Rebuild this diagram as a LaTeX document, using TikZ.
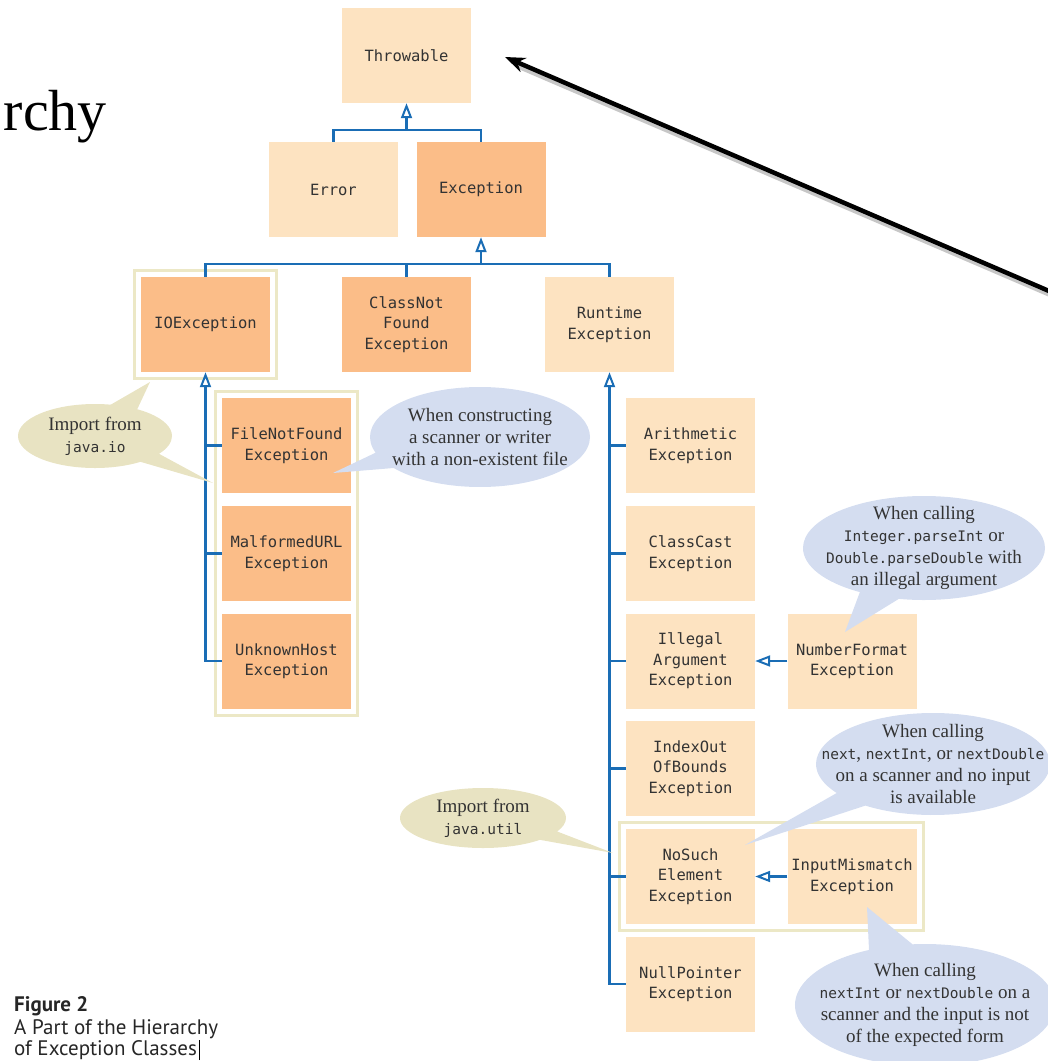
\documentclass[tikz,border=0pt]{standalone}
\usepackage{fontspec}
\setmainfont{Liberation Serif}
\setmonofont{DejaVu Sans Mono}
\newfontfamily\capfont{PT Sans}
\usetikzlibrary{arrows.meta,shapes.callouts,fit,calc}
\definecolor{lightbox}{HTML}{FDE3C1}
\definecolor{darkbox}{HTML}{FBBD88}
\definecolor{blueline}{HTML}{1A6DB5}
\definecolor{frameC}{HTML}{ECE8C6}
\definecolor{noteblue}{HTML}{D4DDF0}
\definecolor{notebeige}{HTML}{E8E3C2}
\definecolor{txt}{HTML}{333333}
\newcommand\codew[1]{{\fontsize{14.5}{22}\selectfont\ttfamily #1}}
\begin{document}
\begin{tikzpicture}[x=1pt,y=-1pt,
  box/.style={rectangle, minimum width=129pt, minimum height=95pt, inner sep=0pt, align=center,
    font=\fontsize{15.5}{20.5}\selectfont\ttfamily, text=txt},
  lbox/.style={box, fill=lightbox},
  dbox/.style={box, fill=darkbox},
  frame/.style={draw=frameC, line width=3pt, inner sep=6.5pt},
  conn/.style={draw=blueline, line width=2.6pt},
  inh/.style={conn, -{Triangle[length=15pt, width=11pt, fill=white, line width=2pt]}},
  call/.style={ellipse callout, callout pointer arc=20, inner sep=0pt},
  calltext/.style={font=\fontsize{19}{22}\selectfont, text=txt, align=center, inner sep=0pt},
  captext/.style={anchor=base west, inner sep=0pt, text=black!85}
]
\useasboundingbox (0,0) rectangle (1048,1061);

% title fragment
\node[font=\fontsize{58}{58}\selectfont, anchor=base east, inner sep=0pt] (title) at (107,130) {rchy};

% class boxes
\node[lbox] (throwable) at (406.5,55.5) {Throwable};
\node[lbox] (error) at (333.5,189.5) {Error};
\node[dbox] (exception) at (481,189.5) {Exception};
\node[dbox] (ioexc) at (205.5,324.5) {IOException};
\node[dbox] (classnf) at (406.5,324.5) {ClassNot\\Found\\Exception};
\node[lbox] (runtime) at (609.5,324.5) {Runtime\\Exception};
\node[dbox] (filenf) at (286.5,445.5) {FileNotFound\\Exception};
\node[dbox] (malformed) at (286.5,553.5) {MalformedURL\\Exception};
\node[dbox] (unknown) at (286.5,661) {UnknownHost\\Exception};
\node[lbox] (arith) at (690.5,445.5) {Arithmetic\\Exception};
\node[lbox] (classcast) at (690.5,553.5) {ClassCast\\Exception};
\node[lbox] (illegal) at (690.5,661) {Illegal\\Argument\\Exception};
\node[lbox] (indexout) at (690.5,768.5) {IndexOut\\OfBounds\\Exception};
\node[lbox] (nosuch) at (690.5,876.5) {NoSuch\\Element\\Exception};
\node[lbox] (nullptr) at (690.5,984) {NullPointer\\Exception};
\node[lbox] (numfmt) at (852,661) {NumberFormat\\Exception};
\node[lbox] (inputmm) at (852,876.5) {InputMismatch\\Exception};

% package frames
\node[frame, fit=(ioexc)] (ioframe) {};
\node[frame, fit=(filenf)(unknown)] (ioframe2) {};
\node[frame, fit=(nosuch)(inputmm)] (utilframe) {};

% inheritance connectors
\coordinate (j1) at (406.5,130);
\draw[conn] (error.north) |- (j1) -| (exception.north);
\draw[inh] (j1) -- (throwable.south);
\coordinate (j2) at (481,264);
\draw[conn] (ioexc.north) |- (j2) -| (runtime.north);
\draw[conn] (classnf.north) -- (classnf.north |- j2);
\draw[inh] (j2) -- (exception.south);
\draw[inh] (unknown.west) -| (ioexc.south);
\draw[conn] (filenf.west) -- (filenf.west -| ioexc.south);
\draw[conn] (malformed.west) -- (malformed.west -| ioexc.south);
\draw[inh] (nullptr.west) -| (runtime.south);
\foreach \n in {arith,classcast,illegal,indexout,nosuch}
  \draw[conn] (\n.west) -- (\n.west -| runtime.south);
\draw[inh] (numfmt.west) -- (illegal.east);
\draw[inh] (inputmm.west) -- (nosuch.east);

% callouts
\coordinate (pio) at (213,483);
\coordinate (pio2) at (150,382);
\node[call, fill=notebeige, minimum width=154pt, minimum height=64pt, callout absolute pointer=(pio),
  label={[calltext]center:{Import from\\\codew{java.io}}}] (iocall) at (95,436) {};
\fill[notebeige] ($(iocall.center)+(10,-28)$) -- (pio2) -- ($(iocall.center)+(40,-22)$) -- cycle;

\coordinate (pfile) at (333,473);
\node[call, fill=noteblue, minimum width=220pt, minimum height=100pt, callout absolute pointer=(pfile),
  label={[calltext]center:{When constructing\\a scanner or writer\\with a non-existent file}}] (filecall) at (480,437) {};

\coordinate (pnum) at (845,632);
\node[call, fill=noteblue, minimum width=242pt, minimum height=104pt, callout absolute pointer=(pnum),
  label={[calltext]center:{When calling\\\codew{Integer.parseInt} or\\\codew{Double.parseDouble} with\\an illegal argument}}] (numcall) at (924,548) {};

\coordinate (pnext) at (745,845);
\node[call, fill=noteblue, minimum width=234pt, minimum height=102pt, callout absolute pointer=(pnext),
  label={[calltext]center:{When calling\\\codew{next}, \codew{nextInt}, or \codew{nextDouble}\\on a scanner and no input\\is available}}] (nextcall) at (933,764) {};

\coordinate (putil) at (613,853);
\node[call, fill=notebeige, minimum width=166pt, minimum height=60pt, callout absolute pointer=(putil),
  label={[calltext]center:{Import from\\\codew{java.util}}}] (utilcall) at (483,818) {};

\coordinate (pmis) at (867,907);
\node[call, fill=noteblue, minimum width=260pt, minimum height=122pt, callout absolute pointer=(pmis),
  label={[calltext]center:{When calling\\\codew{nextInt} or \codew{nextDouble} on a\\scanner and the input is not\\of the expected form}}] (miscall) at (925,1005) {};

% big pointing arrow
\coordinate (astart) at (1056,294);
\coordinate (atip) at (505,57);
\draw[black!22, line width=6pt] ($(astart)+(1,3)$) -- ($(atip)+(14,9)$);
\draw[line width=4.5pt, -{Stealth[length=20pt,width=15pt]}] (astart) -- (atip);

% caption
\node[captext, font=\capfont\bfseries\fontsize{21}{24}\selectfont] (figlabel) at (14,1011) {Figure 2};
\node[captext, font=\capfont\fontsize{21}{24}\selectfont] (cap1) at (14,1034) {A Part of the Hierarchy};
\node[captext, font=\capfont\fontsize{21}{24}\selectfont] (cap2) at (14,1055) {of Exception Classes};
\draw[line width=1pt] ($(cap2.base east)+(2,5)$) -- ++(0,-20);
\end{tikzpicture}
\end{document}
